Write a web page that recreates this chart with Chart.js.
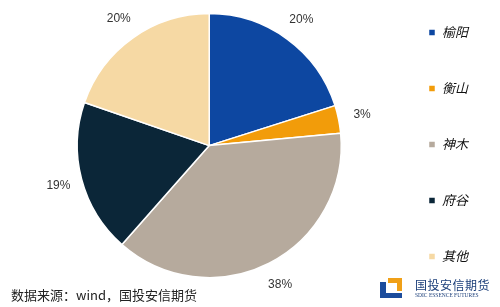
<!DOCTYPE html>
<html>
<head>
<meta charset="utf-8">
<script src="https://cdn.jsdelivr.net/npm/chart.js@4/dist/chart.umd.min.js"></script>
<style>
  html, body { margin: 0; padding: 0; background: #fff; }
  #wrap { position: relative; width: 500px; height: 307px; overflow: hidden; }
  #c { position: absolute; left: 0; top: 0; }
  #src { position: absolute; left: 11px; top: 285px; font: 13px "Noto Sans CJK SC", sans-serif; color: #222; white-space: nowrap; }
  #logo { position: absolute; left: 380px; top: 277px; width: 120px; height: 28px; }
  #logo .b1 { position: absolute; left: 0; top: 5px; width: 6px; height: 16px; background: #1c4c9c; }
  #logo .b2 { position: absolute; left: 0; top: 16px; width: 22px; height: 5px; background: #1c4c9c; }
  #logo .o1 { position: absolute; left: 8px; top: 1px; width: 14px; height: 5px; background: #f0a018; }
  #logo .o2 { position: absolute; left: 17px; top: 1px; width: 5px; height: 13px; background: #f0a018; }
  #logo .t1 { position: absolute; left: 35px; top: -1px; font: 12px "Noto Sans CJK SC", sans-serif; color: #1c3f7a; letter-spacing: 0.5px; white-space: nowrap; }
  #logo .t2 { position: absolute; left: 35px; top: 15px; font: 5.5px "Liberation Serif", serif; color: #1c3f7a; white-space: nowrap; }
</style>
</head>
<body>
<div id="wrap">
  <canvas id="c" width="500" height="307"></canvas>
  <div id="src">数据来源：wind，国投安信期货</div>
  <div id="logo"><div class="b1"></div><div class="b2"></div><div class="o1"></div><div class="o2"></div>
    <div class="t1">国投安信期货</div><div class="t2">SDIC ESSENCE FUTURES</div></div>
</div>
<script>
const categories = ['榆阳', '衡山', '神木', '府谷', '其他'];
const shares = [20.1, 3.4, 38.0, 18.8, 19.7];
const sliceColors = ['#0d47a1', '#f29c0a', '#b6aa9d', '#0b2638', '#f6d9a4'];

const outsideLabels = {
  id: 'outsideLabels',
  afterDatasetsDraw(chart) {
    const ctx = chart.ctx;
    const meta = chart.getDatasetMeta(0);
    const total = shares.reduce((a, b) => a + b, 0);
    ctx.save();
    ctx.font = '12px "Liberation Sans", Arial, sans-serif';
    ctx.fillStyle = '#333';
    ctx.textAlign = 'center';
    ctx.textBaseline = 'middle';
    meta.data.forEach((arc, i) => {
      const p = arc.getProps(['x', 'y', 'startAngle', 'endAngle', 'outerRadius'], true);
      const mid = (p.startAngle + p.endAngle) / 2;
      const r = p.outerRadius + 24;
      const txt = Math.round(shares[i] / total * 100) + '%';
      ctx.fillText(txt, p.x + Math.cos(mid) * r, p.y + Math.sin(mid) * r);
    });
    ctx.restore();
  }
};

new Chart(document.getElementById('c'), {
  type: 'pie',
  data: {
    labels: categories,
    datasets: [{
      data: shares,
      backgroundColor: sliceColors,
      borderColor: '#ffffff',
      borderWidth: 1.5,
      radius: 132
    }]
  },
  options: {
    responsive: false,
    animation: false,
    events: [],
    layout: { padding: { left: 33, right: 22, top: -19, bottom: -1 } },
    plugins: {
      tooltip: { enabled: false },
      title: {
        display: true,
        text: ' ',
        position: 'bottom',
        fullSize: false,
        padding: 0,
        font: { size: 14, lineHeight: 1.2 }
      },
      legend: {
        position: 'right',
        align: 'center',
        labels: {
          boxWidth: 7,
          boxHeight: 7,
          padding: 43,
          color: '#111',
          font: { size: 13, style: 'italic', family: '"Noto Sans CJK SC", sans-serif' }
        }
      }
    }
  },
  plugins: [outsideLabels]
});
</script>
</body>
</html>
